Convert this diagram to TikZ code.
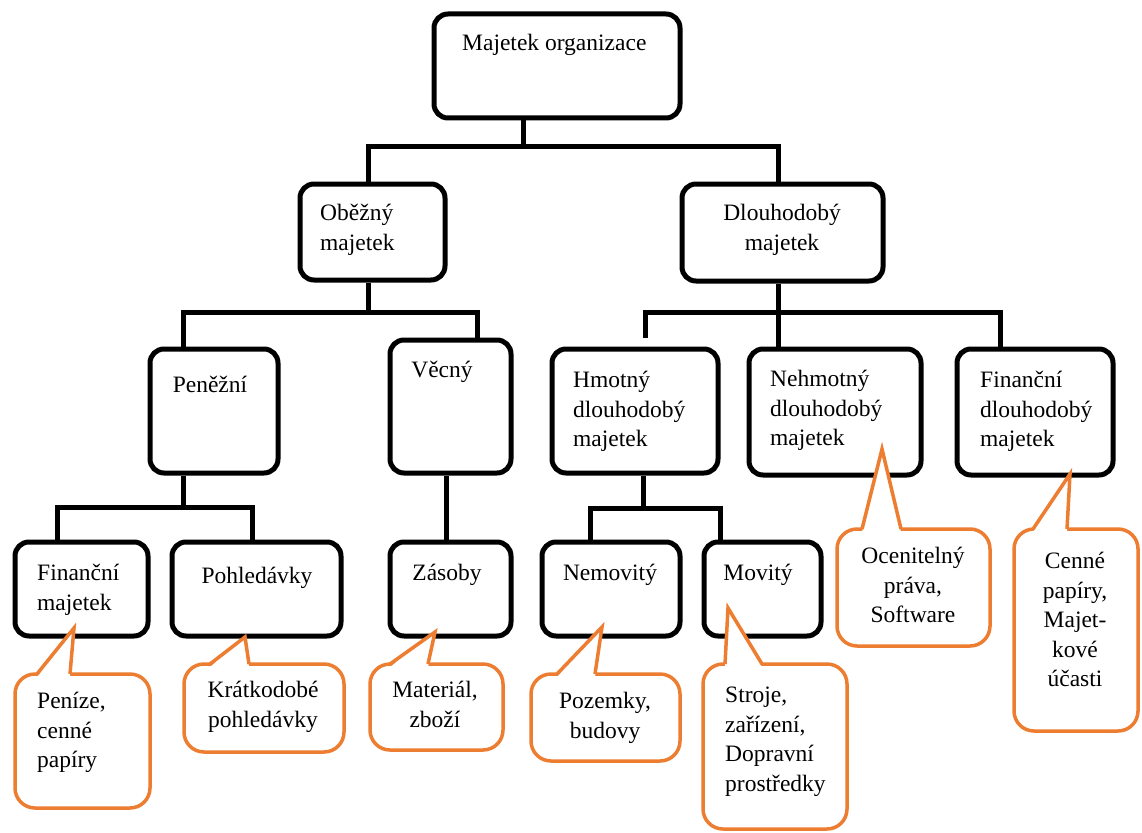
\documentclass[tikz,border=0pt]{standalone}
\usepackage{fontspec}
\setmainfont{Liberation Serif}
\definecolor{calloutorange}{RGB}{237,125,49}
\tikzset{
  box/.style={draw=black, line width=5pt, rounded corners=14pt, fill=white, inner sep=0pt},
  conn/.style={draw=black, line width=5pt},
  callout/.style={draw=calloutorange, line width=3.5pt, rounded corners=20pt, fill=white, inner sep=0pt},
  ptr/.style={draw=calloutorange, line width=3.5pt},
  ptrfill/.style={fill=white},
  lbl/.style={font=\fontsize{23.5}{29.5}\selectfont, inner sep=0pt, text=black},
}
\begin{document}
\begin{tikzpicture}[x=1pt,y=-1pt]
\useasboundingbox (0,0) rectangle (1142,832);

% junctions
\coordinate (j1) at (523,146);
\coordinate (j2) at (368,312);
\coordinate (j3) at (778,312);
\coordinate (j4) at (183,507);
\coordinate (j5) at (643,508);

% boxes
\node[box, minimum width=246pt, minimum height=104pt] (root) at (557,66) {};
\node[box, minimum width=145pt, minimum height=96pt] (obez) at (372.5,232) {};
\node[box, minimum width=201pt, minimum height=97pt] (dlouh) at (782.5,232.5) {};
\node[box, minimum width=128pt, minimum height=124pt] (pen) at (214,411) {};
\node[box, minimum width=121pt, minimum height=133pt] (vec) at (450.5,406.5) {};
\node[box, minimum width=166pt, minimum height=124pt] (hmot) at (635,411) {};
\node[box, minimum width=172pt, minimum height=126pt] (nehm) at (835,412) {};
\node[box, minimum width=156pt, minimum height=126pt] (finD) at (1035,412) {};
\node[box, minimum width=133pt, minimum height=94pt] (finM) at (81.5,589) {};
\node[box, minimum width=169pt, minimum height=94pt] (pohl) at (256.5,589) {};
\node[box, minimum width=121pt, minimum height=94pt] (zas) at (450.5,589) {};
\node[box, minimum width=138pt, minimum height=94pt] (nemo) at (611,589) {};
\node[box, minimum width=117pt, minimum height=94pt] (movi) at (762.5,589) {};

% connectors
\draw[conn] (root.south -| j1) -- (j1);
\draw[conn] ([xshift=-4.5pt]obez.north) |- (j1) -| ([xshift=-4.5pt]dlouh.north);
\draw[conn] (obez.south -| j2) -- (j2);
\draw[conn] ([xshift=-31pt]pen.north) |- (j2) -| ([xshift=26.5pt]vec.north);
\draw[conn] (dlouh.south -| j3) -- (nehm.north -| j3);
\draw[conn] ([xshift=10pt,yshift=8.5pt]hmot.north) |- (j3) -| ([xshift=-35pt]finD.north);
\draw[conn] ([xshift=-31pt]pen.south) -- (j4);
\draw[conn] ([xshift=-24.5pt]finM.north) |- (j4) -| ([xshift=-4.5pt]pohl.north);
\draw[conn] ([xshift=-4.5pt]vec.south) -- ([xshift=-4.5pt]zas.north);
\draw[conn] ([xshift=8pt]hmot.south) -- (j5);
\draw[conn] ([xshift=-21pt]nemo.north) |- (j5) -| ([xshift=-42.5pt]movi.north);

% box texts
\node[lbl, anchor=north west, align=left] (t-root) at (462,30) {\strut Majetek organizace};
\node[lbl, anchor=north west, align=left] (t-obez) at (320,200) {\strut Oběžný\\majetek};
\node[lbl, anchor=north, align=center] (t-dlouh) at (782,200) {\strut Dlouhodobý\\majetek};
\node[lbl, anchor=north, align=center] (t-pen) at (210,372) {\strut Peněžní};
\node[lbl, anchor=north, align=center] (t-vec) at (442,357) {\strut Věcný};
\node[lbl, anchor=north west, align=left] (t-hmot) at (573,367) {\strut Hmotný\\dlouhodobý\\majetek};
\node[lbl, anchor=north west, align=left] (t-nehm) at (770,366) {\strut Nehmotný\\dlouhodobý\\majetek};
\node[lbl, anchor=north west, align=left] (t-finD) at (980,367) {\strut Finanční\\dlouhodobý\\majetek};
\node[lbl, anchor=north west, align=left] (t-finM) at (37,560) {\strut Finanční\\majetek};
\node[lbl, anchor=north, align=center] (t-pohl) at (257,563) {\strut Pohledávky};
\node[lbl, anchor=north, align=center] (t-zas) at (447,560) {\strut Zásoby};
\node[lbl, anchor=north, align=center] (t-nemo) at (610,560) {\strut Nemovitý};
\node[lbl, anchor=north, align=center] (t-movi) at (758,560) {\strut Movitý};

% callouts
\node[callout, minimum width=135pt, minimum height=134pt] (c1) at (82.5,741) {};
\fill[ptrfill] (37,677) -- (74,628) -- (70,677) -- cycle;
\draw[ptr] (37,674) -- (74,628) -- (70,674);

\node[callout, minimum width=160pt, minimum height=88pt] (c2) at (264,708) {};
\fill[ptrfill] (210,667) -- (245,637) -- (249,667) -- cycle;
\draw[ptr] (210,664) -- (245,637) -- (249,664);

\node[callout, minimum width=133pt, minimum height=86pt] (c3) at (436.5,707) {};
\fill[ptrfill] (390,667) -- (435,632) -- (428,667) -- cycle;
\draw[ptr] (390,664) -- (435,632) -- (428,664);

\node[callout, minimum width=149pt, minimum height=87pt] (c4) at (605.5,717.5) {};
\fill[ptrfill] (557,677) -- (602,627) -- (595,677) -- cycle;
\draw[ptr] (557,674) -- (602,627) -- (595,674);

\node[callout, minimum width=144pt, minimum height=165pt] (c5) at (775,746.5) {};
\fill[ptrfill] (725,667) -- (728,608) -- (762,667) -- cycle;
\draw[ptr] (725,664) -- (728,608) -- (762,664);

\node[callout, minimum width=153pt, minimum height=117pt] (c6) at (913.5,587.5) {};
\fill[ptrfill] (862,532) -- (882,449) -- (901,532) -- cycle;
\draw[ptr] (862,529) -- (882,449) -- (901,529);

\node[callout, minimum width=124pt, minimum height=202pt] (c7) at (1076,630) {};
\fill[ptrfill] (1033,532) -- (1070,474) -- (1067,532) -- cycle;
\draw[ptr] (1033,529) -- (1070,474) -- (1067,529);

% callout texts
\node[lbl, anchor=north west, align=left] (t-c1) at (37,688) {\strut Peníze,\\cenné\\papíry};
\node[lbl, anchor=north, align=center] (t-c2) at (263,677) {\strut Krátkodobé\\pohledávky};
\node[lbl, anchor=north, align=center] (t-c3) at (435,677) {\strut Materiál,\\zboží};
\node[lbl, anchor=north, align=center] (t-c4) at (605,688) {\strut Pozemky,\\budovy};
\node[lbl, anchor=north west, align=left] (t-c5) at (725,682) {\strut Stroje,\\zařízení,\\Dopravní\\prostředky};
\node[lbl, anchor=north, align=center] (t-c6) at (913,543) {\strut Ocenitelný\\práva,\\Software};
\node[lbl, anchor=north, align=center] (t-c7) at (1075,548) {\strut Cenné\\papíry,\\Majet-\\kové\\účasti};
\end{tikzpicture}
\end{document}
